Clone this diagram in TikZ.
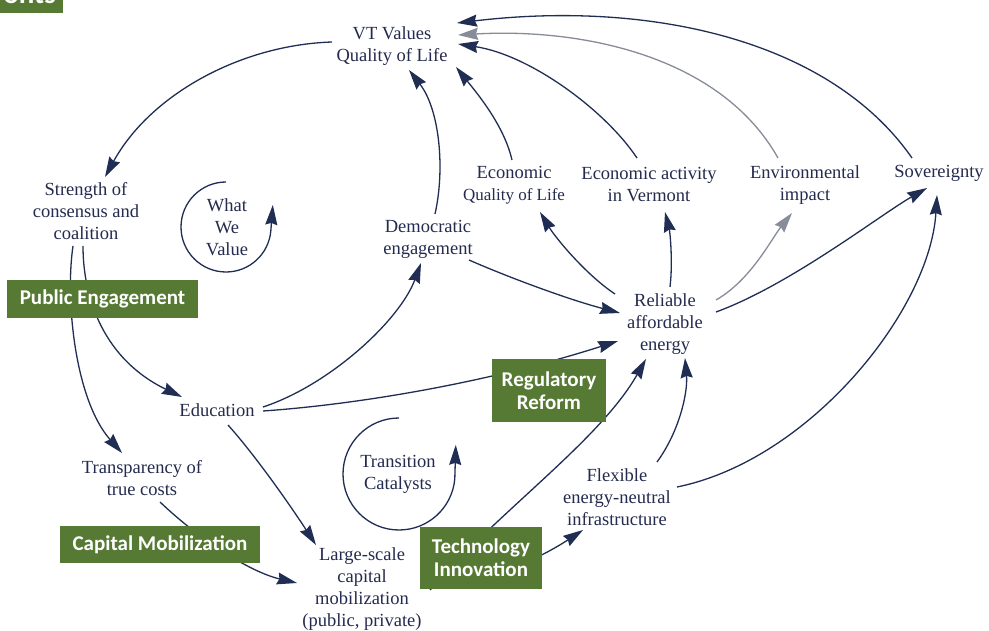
\documentclass[tikz,border=0pt]{standalone}
\usepackage{fontspec}
\newfontfamily\fa{Liberation Serif}
\newfontfamily\cb{Carlito}
\usetikzlibrary{arrows.meta}
\definecolor{gbox}{RGB}{86,122,52}
\definecolor{navy}{RGB}{33,46,84}
\definecolor{txtc}{RGB}{36,43,78}
\definecolor{greyarr}{RGB}{135,140,152}
\begin{document}
\begin{tikzpicture}[x=1pt,y=-1pt,
  lbl/.style={font=\fa\fontsize{18.5}{22}\selectfont, text=txtc, align=center, inner sep=0pt},
  gb/.style={fill=gbox, text=white, font=\cb\bfseries\fontsize{21}{23}\selectfont, align=center, inner sep=0pt},
  conn/.style={navy, line width=1.3pt, -{Stealth[length=20pt,width=12pt,inset=2pt]}},
  connG/.style={conn, greyarr}]
\useasboundingbox (0,0) rectangle (989,631);
\fill[white] (0,0) rectangle (989,631);

% text nodes
\node[lbl] (vt) at (392,46) {VT Values\\Quality of Life};
\node[lbl] (str) at (86,211) {Strength of\\consensus and\\coalition};
\node[lbl] (wwv) at (227,227) {What\\We\\Value};
\node[lbl] (dem) at (428,239) {Democratic\\engagement};
\node[lbl] (eqol) at (514,185) {Economic\\{\fontsize{17}{22}\selectfont Quality of Life}};
\node[lbl] (eav) at (649,185) {Economic activity\\in Vermont};
\node[lbl] (env) at (805,185) {Environmental\\impact};
\node[lbl] (sov) at (939,173) {Sovereignty};
\node[lbl] (rel) at (665,324) {Reliable\\affordable\\energy};
\node[lbl] (edu) at (217,410) {Education};
\node[lbl] (trn) at (142,478) {Transparency of\\true costs};
\node[lbl] (tc) at (398,474) {Transition\\Catalysts};
\node[lbl] (lsc) at (362,589) {Large-scale\\capital\\mobilization\\(public, private)};
\node[lbl] (flex) at (617,497) {Flexible\\energy-neutral\\infrastructure};

% loops
\draw[conn] ([shift={(-1,-45)}]wwv.center) arc[start angle=-90, end angle=-355, radius=45] -- ++(2,-26);
\draw[conn] ([shift={(1,-56)}]tc.center) arc[start angle=-90, end angle=-355, radius=56] -- ++(1,-34);

% connectors
\draw[conn] ([shift={(-60,-4)}]vt.center) .. controls +(-92,3) and +(45,-82) .. ([shift={(19,-34)}]str.center);
\draw[conn] ([shift={(-3,35)}]str.center) .. controls +(0,54) and +(-77,-37) .. ([shift={(-35,-13)}]edu.center);
\draw[conn] ([shift={(-13,35)}]str.center) .. controls +(-8,54) and +(-47,-53) .. ([shift={(-20,-25)}]trn.center);
\draw[conn] ([shift={(46,-3)}]edu.center) .. controls +(67,-22) and +(-21,57) .. ([shift={(-7,24)}]dem.center);
\draw[conn] ([shift={(46,1)}]edu.center) .. controls +(87,-6) and +(-138,44) .. ([shift={(-47,17)}]rel.center);
\draw[conn] ([shift={(11,15)}]edu.center) .. controls +(27,30) and +(-26,-40) .. ([shift={(-46,-44)}]lsc.center);
\draw[conn] ([shift={(18,24)}]trn.center) .. controls +(40,38) and +(-47,-11) .. ([shift={(-65,-6)}]lsc.center);
\draw[conn] ([shift={(7,-25)}]dem.center) .. controls +(10,-44) and +(31,40) .. ([shift={(17,24)}]vt.center);
\draw[conn] ([shift={(41,21)}]dem.center) .. controls +(41,18) and +(-50,-13) .. ([shift={(-45,-11)}]rel.center);
\draw[conn] ([shift={(-50,-30)}]rel.center) .. controls +(-30,-20) and +(15,25) .. ([shift={(26,27)}]eqol.center);
\draw[conn] ([shift={(5,-37)}]rel.center) .. controls +(3,-25) and +(5,20) .. ([shift={(16,27)}]eav.center);
\draw[connG] ([shift={(51,-24)}]rel.center) .. controls +(35,-20) and +(-20,25) .. ([shift={(-13,28)}]env.center);
\draw[conn] ([shift={(51,-12)}]rel.center) .. controls +(74,-27) and +(-47,27) .. ([shift={(-12,15)}]sov.center);
\draw[conn] ([shift={(-2,-25)}]eqol.center) .. controls +(-8,-35) and +(20,25) .. ([shift={(64,21)}]vt.center);
\draw[conn] ([shift={(-12,-27)}]eav.center) .. controls +(-32,-48) and +(72,11) .. ([shift={(66,-2)}]vt.center);
\draw[connG] ([shift={(-27,-27)}]env.center) .. controls +(-58,-103) and +(122,-7) .. ([shift={(66,-11)}]vt.center);
\draw[conn] ([shift={(-27,-15)}]sov.center) .. controls +(-82,-118) and +(193,-23) .. ([shift={(65,-23)}]vt.center);
\draw[conn] ([shift={(68,1)}]lsc.center) .. controls +(70,-80) and +(-46,81) .. ([shift={(-19,35)}]rel.center);
\draw[conn] ([shift={(40,-35)}]flex.center) .. controls +(22,-30) and +(3,35) .. ([shift={(20,34)}]rel.center);
\draw[conn] ([shift={(63,-9)}]lsc.center) .. controls +(55,10) and +(-38,25) .. ([shift={(-34,33)}]flex.center);
\draw[conn] ([shift={(60,-10)}]flex.center) .. controls +(133,-27) and +(-7,115) .. ([shift={(-2,22)}]sov.center);

% green label boxes
\node[gb, minimum width=191pt, minimum height=38pt] (pe) at (102.5,299) {Public Engagement};
\node[gb, minimum width=114pt, minimum height=63pt] (rr) at (549,390.5) {Regulatory\\Reform};
\node[gb, minimum width=200pt, minimum height=37pt] (cm) at (160,544.5) {Capital Mobilization};
\node[gb, minimum width=122pt, minimum height=62pt] (ti) at (481,558) {Technology\\Innovation};
\node[fill=gbox, minimum width=63pt, minimum height=30pt, anchor=south west, inner sep=0pt] (hdr) at (0,13) {};
\node[anchor=base east, inner sep=0pt, text=white, font=\cb\bfseries\fontsize{29}{30}\selectfont] (hdrt) at (56,4) {onts};
\end{tikzpicture}
\end{document}
